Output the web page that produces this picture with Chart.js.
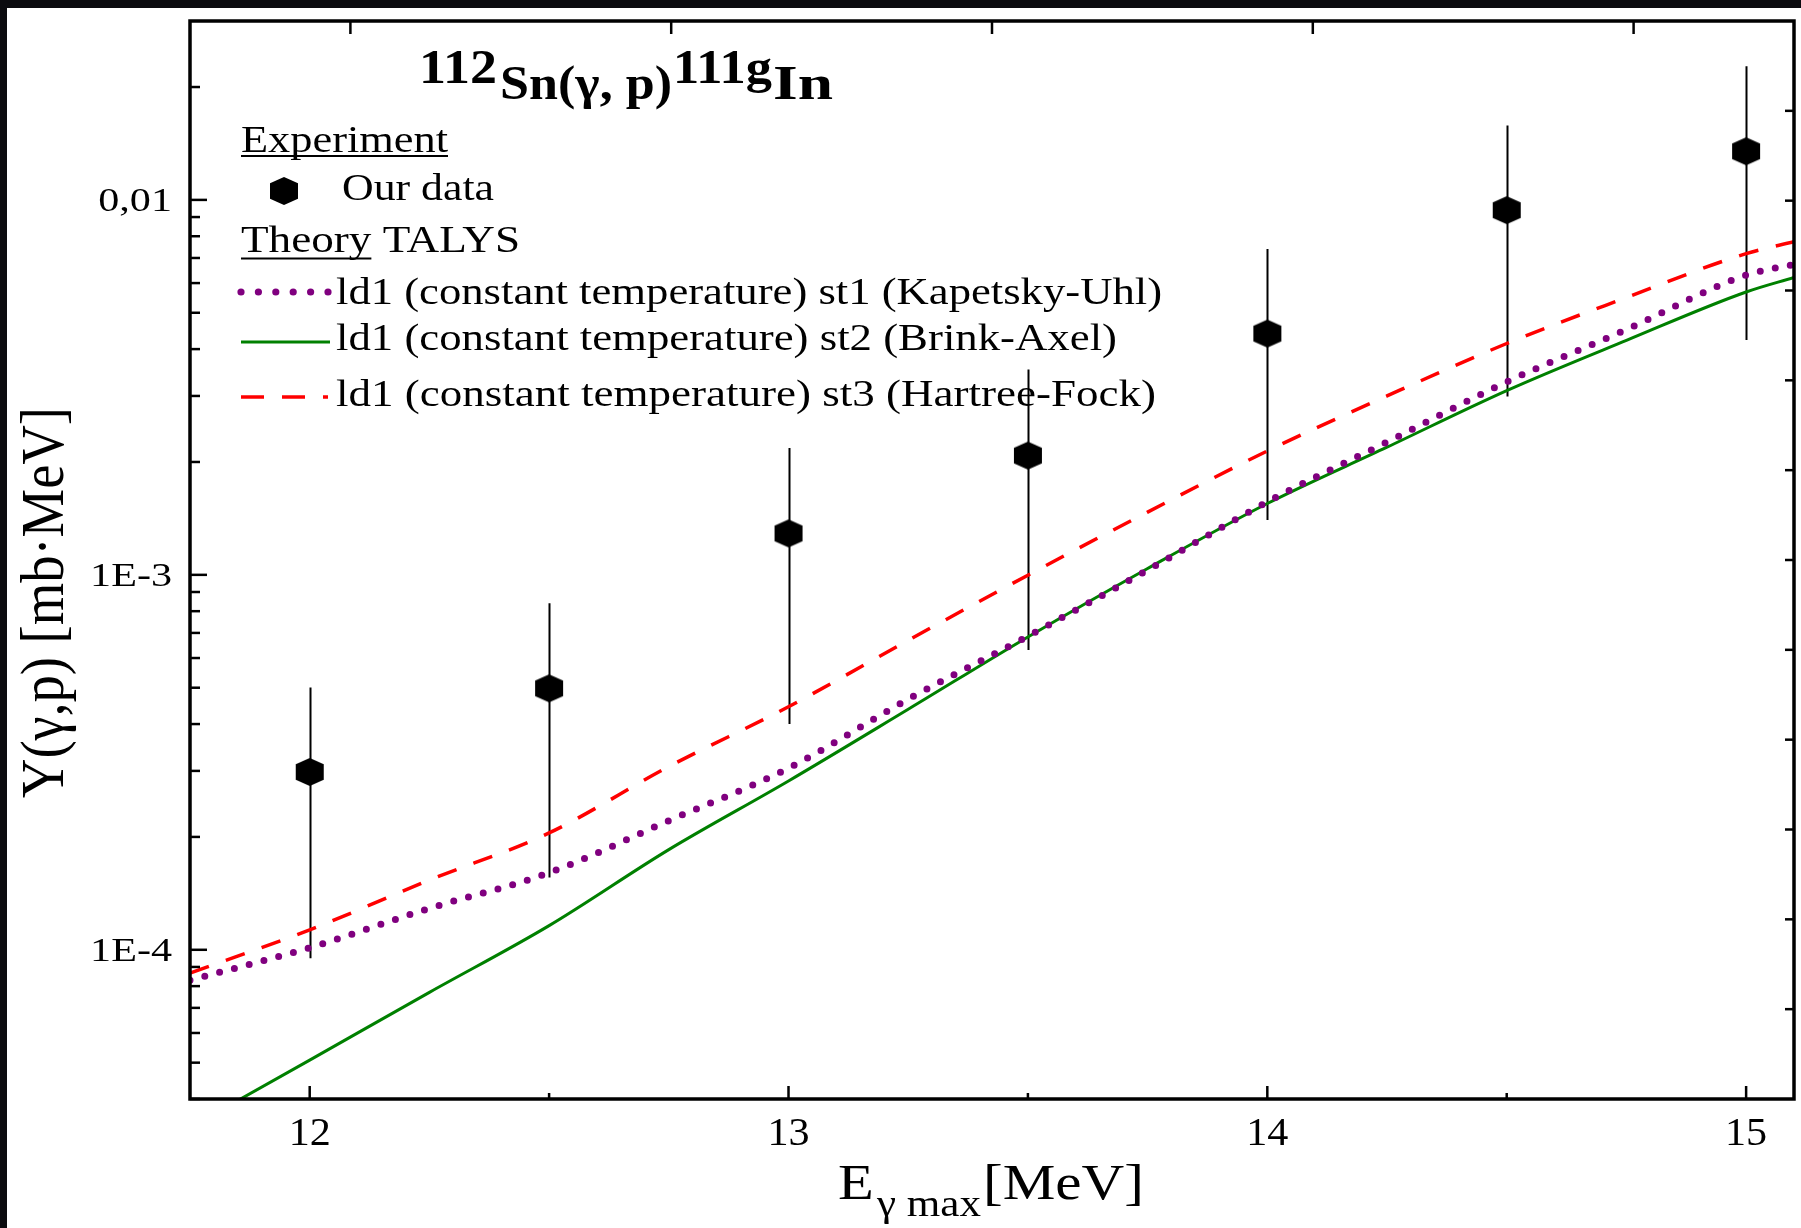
<!DOCTYPE html>
<html>
<head>
<meta charset="utf-8">
<title>112Sn(γ,p)111gIn yield</title>
<script src="https://cdn.jsdelivr.net/npm/chart.js@4.4.1/dist/chart.umd.min.js"></script>
<style>
  html, body { margin: 0; padding: 0; background: #0b0b0f; }
  canvas { display: block; }
</style>
</head>
<body>
<canvas id="yieldChart" width="1801" height="1228"></canvas>
<script>
// experimental yields (mb·MeV), symmetric errors
const energies = [12, 12.5, 13, 13.5, 14, 14.5, 15];
const yieldExp = [2.98e-4, 4.98e-4, 1.29e-3, 2.08e-3, 4.40e-3, 9.39e-3, 1.348e-2];
const yieldErr = [2.03e-4, 3.42e-4, 0.89e-3, 1.45e-3, 3.0e-3, 6.4e-3, 9.25e-3];

// TALYS curves
const talysE   = [11.75, 12, 12.25, 12.5, 12.75, 13, 13.25, 13.5, 13.75, 14, 14.25, 14.5, 14.75, 15, 15.1];
const talysSt1 = [8.3e-5, 1.013e-4, 1.29e-4, 1.605e-4, 2.21e-4, 3.05e-4, 4.66e-4, 6.86e-4, 1.03e-3, 1.565e-3, 2.26e-3, 3.27e-3, 4.51e-3, 6.3e-3, 6.73e-3];
const talysSt2 = [3.36e-5, 5.08e-5, 7.7e-5, 1.16e-4, 1.85e-4, 2.82e-4, 4.38e-4, 6.83e-4, 1.04e-3, 1.55e-3, 2.19e-3, 3.1e-3, 4.22e-3, 5.68e-3, 6.21e-3];
const talysSt3 = [8.67e-5, 1.13e-4, 1.535e-4, 2.05e-4, 3.08e-4, 4.45e-4, 6.69e-4, 9.98e-4, 1.47e-3, 2.14e-3, 3.0e-3, 4.14e-3, 5.49e-3, 7.19e-3, 7.73e-3];

// ticks
const xMajorTicks = [12, 13, 14, 15];
const xTickLabels = ["12", "13", "14", "15"];
const xMinorTicks = [12.5, 13.5, 14.5];
const yMajorTicks = [1e-4, 1e-3, 1e-2];
const yTickLabels = ["1E-4", "1E-3", "0,01"];
const yMinorTicks = [4e-5, 5e-5, 6e-5, 7e-5, 8e-5, 9e-5,
                     2e-4, 3e-4, 4e-4, 5e-4, 6e-4, 7e-4, 8e-4, 9e-4,
                     2e-3, 3e-3, 4e-3, 5e-3, 6e-3, 7e-3, 8e-3, 9e-3, 2e-2];
const topTicks   = [0, 1, 2, 3, 4];
const rightTicks = [1, 2, 3, 4, 5, 6, 7, 8, 9, 10, 11];

const legendLabels = [
  "ld1 (constant temperature) st1 (Kapetsky-Uhl)",
  "ld1 (constant temperature) st2 (Brink-Axel)",
  "ld1 (constant temperature) st3 (Hartree-Fock)",
];

const SERIF = '"Liberation Serif", "Times New Roman", serif';
const PURPLE = "#80007f";
const GREEN  = "#008000";
const RED    = "#ff0000";

function makeHex(r) {
  const c = document.createElement("canvas");
  const s = 2 * r + 2;
  c.width = s; c.height = s;
  const g = c.getContext("2d");
  g.translate(s / 2, s / 2);
  g.beginPath();
  g.moveTo(0, -r);
  g.lineTo(r, -r * 0.55);
  g.lineTo(r, r * 0.55);
  g.lineTo(0, r);
  g.lineTo(-r, r * 0.55);
  g.lineTo(-r, -r * 0.55);
  g.closePath();
  g.fillStyle = "#000";
  g.fill();
  return c;
}
const hexImg = makeHex(14);

// text with horizontal stretch (the original figure is stretched sideways)
function drawText(ctx, s, x, y, font, sx, align) {
  ctx.save();
  ctx.font = font;
  ctx.translate(x, y);
  ctx.scale(sx, 1);
  ctx.textAlign = align || "left";
  ctx.textBaseline = "alphabetic";
  ctx.fillStyle = "#000";
  ctx.fillText(s, 0, 0);
  ctx.restore();
}
function fitText(ctx, s, x, y, font, width) {
  ctx.save();
  ctx.font = font;
  const sx = width / ctx.measureText(s).width;
  ctx.restore();
  drawText(ctx, s, x, y, font, sx, "left");
  return sx;
}

function xy(xs, ys) { return xs.map((x, i) => ({ x: x, y: ys[i] })); }

const decor = {
  id: "decor",
  beforeDraw(chart) {
    const ctx = chart.ctx;
    ctx.save();
    ctx.fillStyle = "#0b0b0f";
    ctx.fillRect(0, 0, chart.width, chart.height);
    ctx.fillStyle = "#ffffff";
    ctx.fillRect(7, 8, chart.width - 7, chart.height - 8);
    ctx.restore();
  },
  beforeDatasetsDraw(chart) {
    const ctx = chart.ctx, xs = chart.scales.x, ys = chart.scales.y;
    ctx.save();
    ctx.strokeStyle = "#000";
    ctx.lineWidth = 2;
    energies.forEach((e, i) => {
      const px = Math.round(xs.getPixelForValue(e)) + 0.5;
      ctx.beginPath();
      ctx.moveTo(px, ys.getPixelForValue(yieldExp[i] + yieldErr[i]));
      ctx.lineTo(px, ys.getPixelForValue(yieldExp[i] - yieldErr[i]));
      ctx.stroke();
    });
    ctx.restore();
  },
  afterDraw(chart) {
    const ctx = chart.ctx, a = chart.chartArea;
    const xs = chart.scales.x, ys = chart.scales.y, x2 = chart.scales.x2, y2 = chart.scales.y2;
    ctx.save();
    ctx.strokeStyle = "#000";
    ctx.lineWidth = 2.5;
    const tick = (x0, y0, x1, y1) => { ctx.beginPath(); ctx.moveTo(x0, y0); ctx.lineTo(x1, y1); ctx.stroke(); };

    xMajorTicks.forEach(v => { const p = xs.getPixelForValue(v); tick(p, a.bottom, p, a.bottom - 13); });
    xMinorTicks.forEach(v => { const p = xs.getPixelForValue(v); tick(p, a.bottom, p, a.bottom - 6); });
    yMajorTicks.forEach(v => { const p = ys.getPixelForValue(v); tick(a.left, p, a.left + 17, p); });
    yMinorTicks.forEach(v => { const p = ys.getPixelForValue(v); tick(a.left, p, a.left + 10, p); });
    topTicks.forEach(v => { const p = x2.getPixelForValue(v); tick(p, a.top, p, a.top + 13); });
    rightTicks.forEach(v => { const p = y2.getPixelForValue(v); tick(a.right, p, a.right - 9, p); });

    // frame
    ctx.lineWidth = 3.5;
    ctx.strokeRect(a.left, a.top, a.right - a.left, a.bottom - a.top);

    // tick labels
    yMajorTicks.forEach((v, i) => {
      drawText(ctx, yTickLabels[i], 172, ys.getPixelForValue(v) + 11.5, "34px " + SERIF, 1.24, "right");
    });
    xMajorTicks.forEach((v, i) => {
      drawText(ctx, xTickLabels[i], xs.getPixelForValue(v), 1145, "39px " + SERIF, 1.08, "center");
    });

    // axis titles
    drawText(ctx, "E", 838, 1199, "50px " + SERIF, 1.17);
    fitText(ctx, "γ max", 877, 1216, "38px " + SERIF, 104);
    fitText(ctx, "[MeV]", 983, 1199, "50px " + SERIF, 161);

    ctx.save();
    const yTitle = "Y(γ,p) [mb·MeV]";
    ctx.font = "100px " + SERIF;
    const ySize = 100 * 391 / ctx.measureText(yTitle).width;
    ctx.font = ySize.toFixed(1) + "px " + SERIF;
    ctx.translate(63, 602.5);
    ctx.scale(1.14, 1);
    ctx.rotate(-Math.PI / 2);
    ctx.textAlign = "center";
    ctx.fillStyle = "#000";
    ctx.fillText(yTitle, 0, 0);
    ctx.restore();

    // reaction title
    const bold = "bold 49px " + SERIF;
    fitText(ctx, "112", 419, 83, bold, 78);
    fitText(ctx, "Sn(γ, p)", 500, 99, bold, 172);
    fitText(ctx, "111g", 673, 83, bold, 99);
    fitText(ctx, "In", 773, 99, bold, 60);

    // legend
    const lf = "38px " + SERIF;
    fitText(ctx, "Experiment", 241, 152, lf, 207);
    ctx.lineWidth = 2;
    tick(241, 156, 448, 156);
    ctx.drawImage(hexImg, 284 - hexImg.width / 2, 191 - hexImg.height / 2);
    fitText(ctx, "Our data", 342, 200, lf, 152);
    const sxT = fitText(ctx, "Theory TALYS", 241, 252, lf, 279);
    ctx.font = lf;
    const thW = ctx.measureText("Theory").width * sxT;
    tick(241, 258.5, 241 + thW, 258.5);

    // samples
    ctx.fillStyle = PURPLE;
    for (let k = 0; k < 6; k++) {
      ctx.beginPath(); ctx.arc(241 + k * 17.4, 292, 3.6, 0, Math.PI * 2); ctx.fill();
    }
    ctx.strokeStyle = GREEN; ctx.lineWidth = 3;
    tick(241, 342, 330, 342);
    ctx.strokeStyle = RED; ctx.lineWidth = 3.5;
    ctx.setLineDash([23, 18]);
    tick(241, 397, 328, 397);
    ctx.setLineDash([]);

    fitText(ctx, legendLabels[0], 336, 304, lf, 826);
    fitText(ctx, legendLabels[1], 336, 350, lf, 781);
    fitText(ctx, legendLabels[2], 336, 406, lf, 820);
    ctx.restore();
  }
};

const hidden = { display: false };
new Chart(document.getElementById("yieldChart"), {
  type: "line",
  data: {
    datasets: [
      {
        label: "Our data",
        data: xy(energies, yieldExp),
        showLine: false,
        pointStyle: hexImg,
        pointRadius: 14,
        order: 0,
      },
      {
        label: legendLabels[0],
        data: xy(talysE, talysSt1),
        borderColor: PURPLE,
        borderWidth: 7,
        borderDash: [0, 15.3],
        borderCapStyle: "round",
        pointRadius: 0,
        cubicInterpolationMode: "monotone",
        order: 2,
      },
      {
        label: legendLabels[1],
        data: xy(talysE, talysSt2),
        borderColor: GREEN,
        borderWidth: 3,
        pointRadius: 0,
        cubicInterpolationMode: "monotone",
        order: 3,
      },
      {
        label: legendLabels[2],
        data: xy(talysE, talysSt3),
        borderColor: RED,
        borderWidth: 3.5,
        borderDash: [20, 18],
        pointRadius: 0,
        cubicInterpolationMode: "monotone",
        order: 1,
      },
    ]
  },
  options: {
    responsive: false,
    animation: false,
    devicePixelRatio: 1,
    layout: { padding: 0, autoPadding: false },
    plugins: { legend: { display: false }, tooltip: { enabled: false } },
    scales: {
      x: {
        type: "linear", position: "bottom", min: 11.75, max: 15.1,
        grid: hidden, border: hidden, ticks: hidden,
        afterFit: s => { s.height = 129; },
      },
      x2: {
        type: "linear", position: "top", min: -0.5, max: 4.5,
        grid: hidden, border: hidden, ticks: hidden,
        afterFit: s => { s.height = 21; },
      },
      y: {
        type: "logarithmic", position: "left", min: 4e-5, max: 0.03,
        grid: hidden, border: hidden, ticks: hidden,
        afterFit: s => { s.width = 190; },
      },
      y2: {
        type: "linear", position: "right", min: 0, max: 12,
        grid: hidden, border: hidden, ticks: hidden,
        afterFit: s => { s.width = 7; },
      },
    }
  },
  plugins: [decor]
});
</script>
</body>
</html>
